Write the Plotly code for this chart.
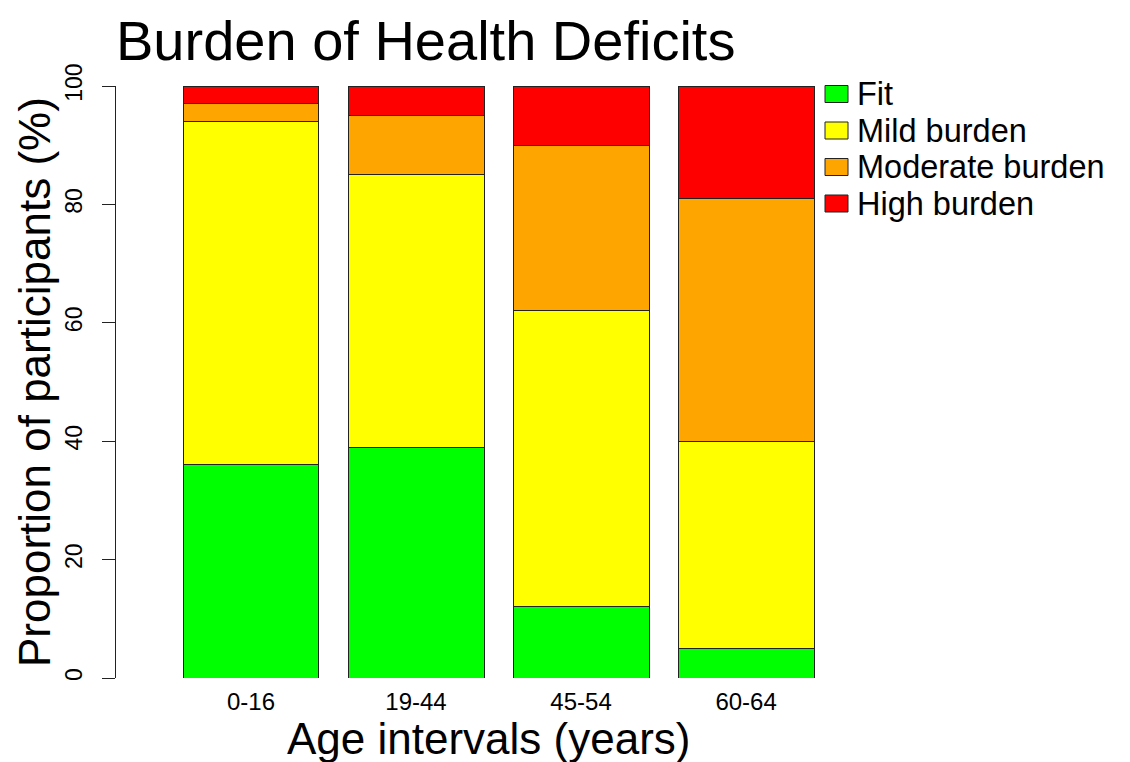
import plotly.graph_objects as go

# Age groups and share of participants (%) in each burden category
age_groups = ["0-16", "19-44", "45-54", "60-64"]
fit = [36, 39, 12, 5]
mild_burden = [58, 46, 50, 35]
moderate_burden = [3, 10, 28, 41]
high_burden = [3, 5, 10, 19]

series_names = ["Fit", "Mild burden", "Moderate burden", "High burden"]
series_values = [fit, mild_burden, moderate_burden, high_burden]
series_colors = ["#00FF00", "#FFFF00", "#FFA500", "#FF0000"]

W, H = 1130, 762
M_L, M_R, M_T, M_B = 116, 310, 86, 84
PLOT_W = W - M_L - M_R
PLOT_H = H - M_T - M_B
FONT = "Liberation Sans, Arial, sans-serif"


def px_x(px):
    return (px - M_L) / PLOT_W


def px_y(py):
    return (H - M_B - py) / PLOT_H


fig = go.Figure()
for name, vals, col in zip(series_names, series_values, series_colors):
    fig.add_trace(go.Bar(
        x=age_groups, y=vals, name=name,
        marker=dict(color=col, line=dict(color="#222222", width=1)),
        showlegend=False,
    ))

# Legend drawn as boxes with labels to the right of the plot
shapes = []
annotations = []
row_y = [94, 130.5, 167, 203.5]
for name, col, ry in zip(series_names, series_colors, row_y):
    shapes.append(dict(
        type="rect", xref="paper", yref="paper",
        x0=px_x(825), x1=px_x(848), y0=px_y(ry + 8.5), y1=px_y(ry - 8.5),
        fillcolor=col, line=dict(color="#222222", width=1),
    ))
    annotations.append(dict(
        text=name, xref="paper", yref="paper", x=px_x(856), y=px_y(ry),
        xanchor="left", yanchor="middle", showarrow=False, borderpad=0,
        font=dict(size=32.5, color="black", family=FONT),
    ))

annotations.append(dict(
    text="Burden of Health Deficits", xref="paper", yref="paper",
    x=px_x(114), y=px_y(40), xanchor="left", yanchor="middle",
    showarrow=False, font=dict(size=56, color="black", family=FONT),
))
annotations.append(dict(
    text="Age intervals (years)", xref="paper", yref="paper",
    x=px_x(488), y=px_y(738), xanchor="center", yanchor="middle",
    showarrow=False, font=dict(size=44, color="black", family=FONT),
))
annotations.append(dict(
    text="Proportion of participants (%)", xref="paper", yref="paper",
    x=px_x(34), y=0.5, xanchor="center", yanchor="middle", textangle=-90,
    showarrow=False, font=dict(size=44, color="black", family=FONT),
))

fig.update_layout(
    width=W, height=H,
    margin=dict(l=M_L, r=M_R, t=M_T, b=M_B, autoexpand=False),
    barmode="stack", bargap=0.176,
    paper_bgcolor="white", plot_bgcolor="white",
    font=dict(family=FONT, color="black"),
    shapes=shapes, annotations=annotations,
    showlegend=False,
    xaxis=dict(
        type="category", range=[-0.818, 3.448],
        showline=False, showgrid=False, zeroline=False, ticks="",
        tickfont=dict(size=24, color="black"), ticklabelstandoff=7,
    ),
    yaxis=dict(
        range=[0, 100], tickvals=[0, 20, 40, 60, 80, 100],
        showline=True, linecolor="#222222", linewidth=1,
        ticks="outside", ticklen=13, tickcolor="#222222", tickwidth=1,
        showgrid=False, zeroline=False, tickangle=-90,
        tickfont=dict(size=23, color="black"), ticklabelstandoff=11,
    ),
)

fig.write_html("out.html")
